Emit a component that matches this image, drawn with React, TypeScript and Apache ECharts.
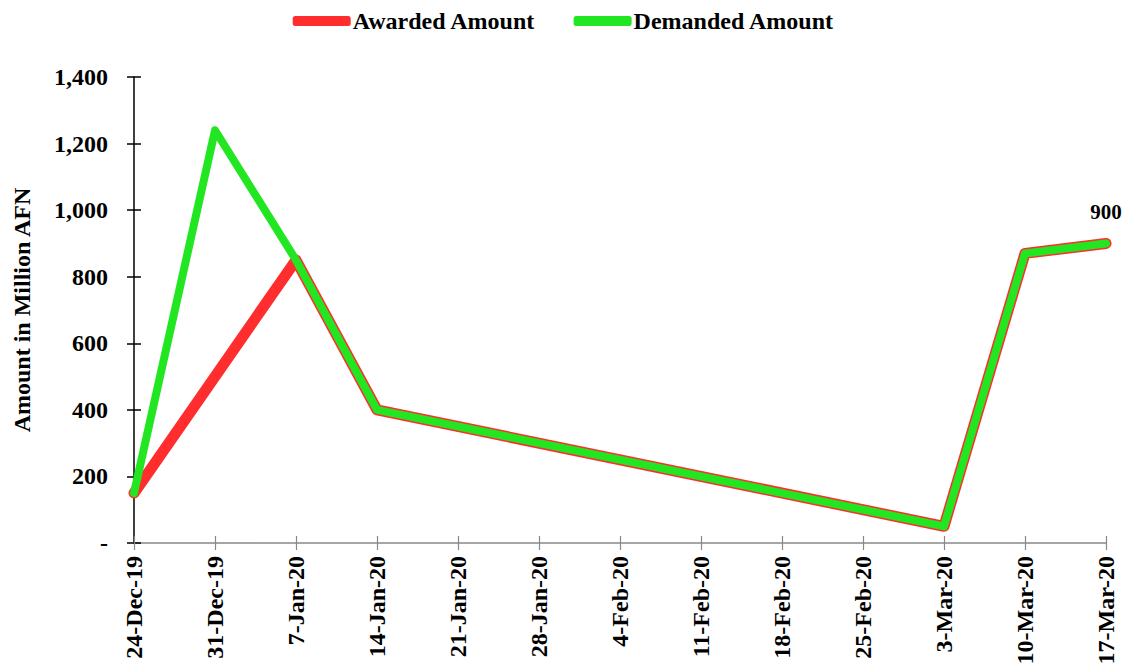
import React, { useEffect, useRef } from "react";
import * as echarts from "echarts";

const categories = [
  "24-Dec-19", "31-Dec-19", "7-Jan-20", "14-Jan-20", "21-Jan-20", "28-Jan-20",
  "4-Feb-20", "11-Feb-20", "18-Feb-20", "25-Feb-20", "3-Mar-20", "10-Mar-20", "17-Mar-20",
];
const awarded: (number | null)[] = [150, null, 850, 400, null, null, null, null, null, null, 50, 870, 900];
const demanded: (number | null)[] = [150, 1240, 850, 400, null, null, null, null, null, null, 50, 870, 900];
const yTicks = [0, 200, 400, 600, 800, 1000, 1200, 1400];

const FONT = '"Liberation Serif", "Times New Roman", serif';
const RED = "#FF2D2D";
const GREEN = "#22E622";

export default function App() {
  const ref = useRef<HTMLDivElement>(null);
  useEffect(() => {
    if (!ref.current) return;
    const chart = echarts.init(ref.current, null, { renderer: "svg" });
    const lastIdx = demanded.length - 1;
    const demandedData = demanded.map((v, i) =>
      i === lastIdx
        ? {
            value: v,
            label: {
              show: true,
              position: "top",
              distance: 21,
              color: "#000",
              fontFamily: FONT,
              fontWeight: "bold",
              fontSize: 21,
            },
          }
        : v
    );
    const fmt = (v: number) => (v === 0 ? "-" : v.toLocaleString("en-US"));
    chart.setOption({
      animation: false,
      textStyle: { fontFamily: FONT },
      legend: {
        top: 4,
        left: "center",
        itemWidth: 58,
        itemHeight: 10,
        itemGap: 38,
        icon: "roundRect",
        textStyle: { fontFamily: FONT, fontWeight: "bold", fontSize: 24, color: "#000", padding: [0, 0, 0, -3] },
        data: [
          { name: "Awarded Amount", itemStyle: { color: RED } },
          { name: "Demanded Amount", itemStyle: { color: GREEN } },
        ],
      },
      grid: { left: 134, right: 21, top: 77, bottom: 125, containLabel: false },
      xAxis: [
        {
          type: "category",
          data: categories,
          boundaryGap: false,
          axisLine: { lineStyle: { color: "#888", width: 1.5 } },
          axisTick: { show: true, length: 7, lineStyle: { color: "#888", width: 1.2 } },
          axisLabel: {
            rotate: 90,
            interval: 0,
            margin: 13,
            color: "#000",
            fontFamily: FONT,
            fontWeight: "bold",
            fontSize: 24,
          },
          splitLine: { show: false },
        },
        {
          type: "category",
          data: categories,
          boundaryGap: false,
          position: "bottom",
          axisLine: { show: false },
          axisTick: { show: true, inside: true, length: 7, lineStyle: { color: "#888", width: 1.2 } },
          axisLabel: { show: false },
          splitLine: { show: false },
        },
      ],
      yAxis: [
        {
          type: "value",
          min: 0,
          max: 1400,
          interval: 200,
          position: "left",
          name: "Amount in Million AFN",
          nameLocation: "middle",
          nameGap: 100,
          nameTextStyle: { fontFamily: FONT, fontWeight: "bold", fontSize: 24, color: "#000" },
          axisLine: { show: true, lineStyle: { color: "#000", width: 1.5 } },
          axisTick: { show: true, length: 7, lineStyle: { color: "#000", width: 1.5 } },
          axisLabel: {
            margin: 26,
            color: "#000",
            fontFamily: FONT,
            fontWeight: "bold",
            fontSize: 24,
            formatter: (v: number) => (yTicks.includes(v) ? fmt(v) : ""),
          },
          splitLine: { show: false },
        },
        {
          type: "value",
          min: 0,
          max: 1400,
          interval: 200,
          position: "left",
          axisLine: { show: false },
          axisTick: { show: true, inside: true, length: 7, lineStyle: { color: "#000", width: 1.5 } },
          axisLabel: { show: false },
          splitLine: { show: false },
        },
      ],
      series: [
        {
          name: "Awarded Amount",
          type: "line",
          data: awarded,
          connectNulls: true,
          showSymbol: false,
          symbol: "none",
          color: RED,
          lineStyle: { color: RED, width: 11, cap: "round", join: "round" },
          z: 2,
        },
        {
          name: "Demanded Amount",
          type: "line",
          data: demandedData,
          connectNulls: true,
          showSymbol: true,
          symbol: "circle",
          symbolSize: 0,
          color: GREEN,
          lineStyle: { color: GREEN, width: 8, cap: "round", join: "round" },
          z: 3,
        },
      ],
    });
    return () => chart.dispose();
  }, []);
  return (
    <div
      ref={ref}
      style={{ position: "fixed", left: 0, top: 0, width: 1127, height: 668, background: "#fff" }}
    />
  );
}
